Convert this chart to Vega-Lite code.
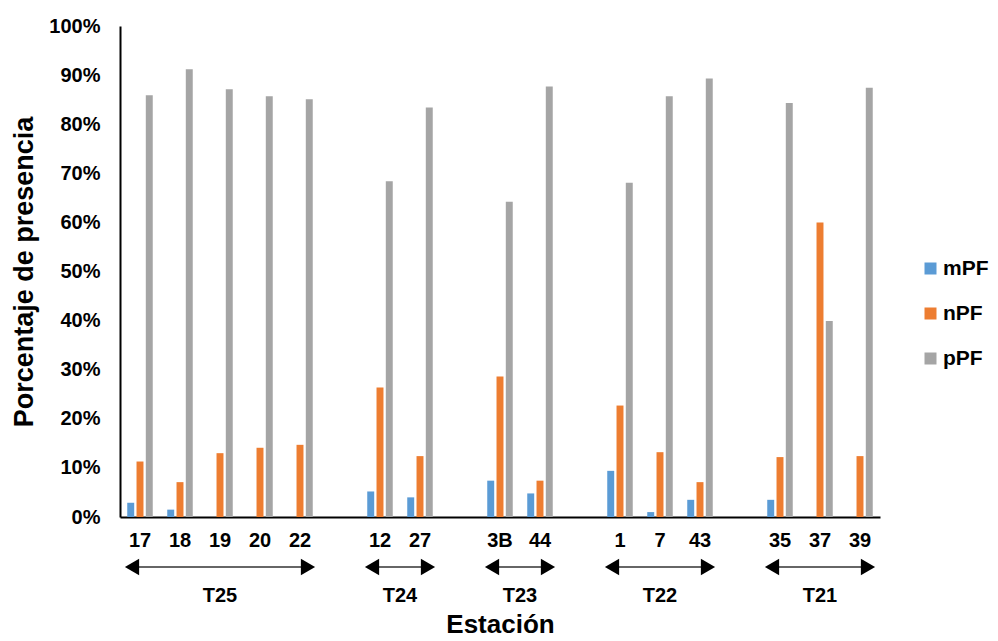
{
  "$schema": "https://vega.github.io/schema/vega-lite/v6.json",
  "width": 760,
  "height": 491,
  "padding": {"left": 10, "top": 16, "right": 0, "bottom": 0},
  "config": {
    "font": "Liberation Sans",
    "view": {"stroke": null},
    "axis": {"grid": false, "ticks": false, "domainColor": "#000000", "domainWidth": 2, "labelColor": "#000000", "titleColor": "#000000"}
  },
  "datasets": {
    "bars": [
      {"station": "17", "tipo": "mPF", "valor": 0.029}, {"station": "17", "tipo": "nPF", "valor": 0.113}, {"station": "17", "tipo": "pPF", "valor": 0.859},
      {"station": "18", "tipo": "mPF", "valor": 0.015}, {"station": "18", "tipo": "nPF", "valor": 0.071}, {"station": "18", "tipo": "pPF", "valor": 0.912},
      {"station": "19", "tipo": "mPF", "valor": 0.0}, {"station": "19", "tipo": "nPF", "valor": 0.130}, {"station": "19", "tipo": "pPF", "valor": 0.871},
      {"station": "20", "tipo": "mPF", "valor": 0.0}, {"station": "20", "tipo": "nPF", "valor": 0.141}, {"station": "20", "tipo": "pPF", "valor": 0.857},
      {"station": "22", "tipo": "mPF", "valor": 0.0}, {"station": "22", "tipo": "nPF", "valor": 0.147}, {"station": "22", "tipo": "pPF", "valor": 0.851},
      {"station": "12", "tipo": "mPF", "valor": 0.052}, {"station": "12", "tipo": "nPF", "valor": 0.264}, {"station": "12", "tipo": "pPF", "valor": 0.684},
      {"station": "27", "tipo": "mPF", "valor": 0.040}, {"station": "27", "tipo": "nPF", "valor": 0.124}, {"station": "27", "tipo": "pPF", "valor": 0.834},
      {"station": "3B", "tipo": "mPF", "valor": 0.074}, {"station": "3B", "tipo": "nPF", "valor": 0.286}, {"station": "3B", "tipo": "pPF", "valor": 0.642},
      {"station": "44", "tipo": "mPF", "valor": 0.048}, {"station": "44", "tipo": "nPF", "valor": 0.074}, {"station": "44", "tipo": "pPF", "valor": 0.877},
      {"station": "1", "tipo": "mPF", "valor": 0.094}, {"station": "1", "tipo": "nPF", "valor": 0.227}, {"station": "1", "tipo": "pPF", "valor": 0.681},
      {"station": "7", "tipo": "mPF", "valor": 0.010}, {"station": "7", "tipo": "nPF", "valor": 0.132}, {"station": "7", "tipo": "pPF", "valor": 0.857},
      {"station": "43", "tipo": "mPF", "valor": 0.035}, {"station": "43", "tipo": "nPF", "valor": 0.071}, {"station": "43", "tipo": "pPF", "valor": 0.893},
      {"station": "35", "tipo": "mPF", "valor": 0.035}, {"station": "35", "tipo": "nPF", "valor": 0.122}, {"station": "35", "tipo": "pPF", "valor": 0.843},
      {"station": "37", "tipo": "mPF", "valor": 0.0}, {"station": "37", "tipo": "nPF", "valor": 0.600}, {"station": "37", "tipo": "pPF", "valor": 0.399},
      {"station": "39", "tipo": "mPF", "valor": 0.0}, {"station": "39", "tipo": "nPF", "valor": 0.124}, {"station": "39", "tipo": "pPF", "valor": 0.874}
    ],
    "groups": [
      {"grupo": "T25", "desde": "17", "hasta": "22", "centro": "19", "par": false},
      {"grupo": "T24", "desde": "12", "hasta": "27", "centro": "12", "par": true},
      {"grupo": "T23", "desde": "3B", "hasta": "44", "centro": "3B", "par": true},
      {"grupo": "T22", "desde": "1", "hasta": "43", "centro": "7", "par": false},
      {"grupo": "T21", "desde": "35", "hasta": "39", "centro": "37", "par": false}
    ]
  },
  "layer": [
    {
      "data": {"name": "bars"},
      "mark": {"type": "bar"},
      "encoding": {
        "x": {
          "field": "station", "type": "nominal",
          "scale": {"domain": ["17", "18", "19", "20", "22", " ", "12", "27", "  ", "3B", "44", "   ", "1", "7", "43", "    ", "35", "37", "39"], "paddingInner": 0, "paddingOuter": 0},
          "axis": {"title": "Estación", "labelAngle": 0, "labelFontSize": 20, "labelFontWeight": "bold", "labelPadding": 13, "titleFontSize": 26, "titleFontWeight": "bold", "titlePadding": 61}
        },
        "y": {
          "field": "valor", "type": "quantitative",
          "scale": {"domain": [0, 1]},
          "axis": {"title": "Porcentaje de presencia", "values": [0, 0.1, 0.2, 0.3, 0.4, 0.5, 0.6, 0.7, 0.8, 0.9, 1], "format": ".0%", "labelFontSize": 20, "labelFontWeight": "bold", "labelPadding": 20, "titleFontSize": 27, "titleFontWeight": "bold", "titlePadding": 10}
        },
        "xOffset": {"field": "tipo", "type": "nominal", "scale": {"paddingInner": 0.25, "paddingOuter": 0.78}},
        "color": {
          "field": "tipo", "type": "nominal",
          "scale": {"domain": ["mPF", "nPF", "pPF"], "range": ["#5B9BD5", "#ED7D31", "#A5A5A5"]},
          "legend": {"title": null, "orient": "none", "legendX": 800, "legendY": 232, "symbolType": "square", "symbolSize": 144, "symbolStrokeWidth": 0, "labelFontSize": 21, "labelFontWeight": "bold", "labelColor": "#000000", "labelOffset": 2, "rowPadding": 23}
        }
      }
    },
    {
      "data": {"name": "groups"},
      "mark": {"type": "rule", "color": "#333333", "strokeWidth": 1.5, "xOffset": -10, "x2Offset": 10, "yOffset": 50},
      "encoding": {
        "x": {"field": "desde", "type": "nominal"},
        "x2": {"field": "hasta"},
        "y": {"datum": 0, "type": "quantitative"}
      }
    },
    {
      "data": {"name": "groups"},
      "mark": {"type": "point", "shape": "triangle-left", "filled": true, "opacity": 1, "color": "#000000", "size": 270, "xOffset": -8, "yOffset": 50},
      "encoding": {
        "x": {"field": "desde", "type": "nominal"},
        "y": {"datum": 0, "type": "quantitative"}
      }
    },
    {
      "data": {"name": "groups"},
      "mark": {"type": "point", "shape": "triangle-right", "filled": true, "opacity": 1, "color": "#000000", "size": 270, "xOffset": 8, "yOffset": 50},
      "encoding": {
        "x": {"field": "hasta", "type": "nominal"},
        "y": {"datum": 0, "type": "quantitative"}
      }
    },
    {
      "data": {"name": "groups"},
      "transform": [{"filter": "!datum.par"}],
      "mark": {"type": "text", "fontSize": 20, "fontWeight": "bold", "color": "#000000", "baseline": "middle", "yOffset": 79},
      "encoding": {
        "x": {"field": "centro", "type": "nominal"},
        "y": {"datum": 0, "type": "quantitative"},
        "text": {"field": "grupo"}
      }
    },
    {
      "data": {"name": "groups"},
      "transform": [{"filter": "datum.par"}],
      "mark": {"type": "text", "fontSize": 20, "fontWeight": "bold", "color": "#000000", "baseline": "middle", "yOffset": 79},
      "encoding": {
        "x": {"field": "centro", "type": "nominal", "bandPosition": 1},
        "y": {"datum": 0, "type": "quantitative"},
        "text": {"field": "grupo"}
      }
    }
  ]
}
